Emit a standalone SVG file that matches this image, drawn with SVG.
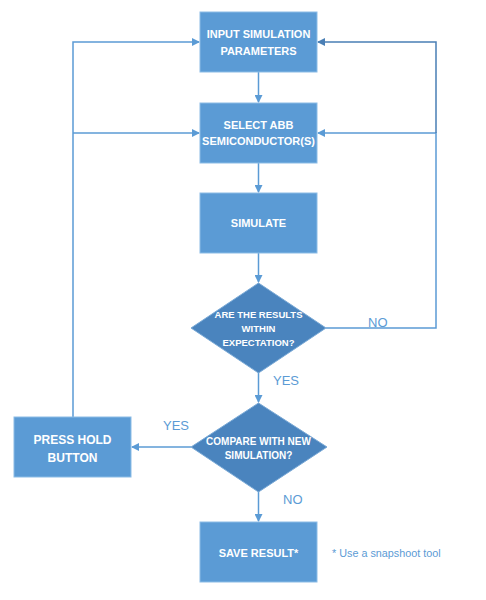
<svg xmlns="http://www.w3.org/2000/svg" width="486" height="600" viewBox="0 0 486 600">
<defs>
<style>
.box{fill:#5b9bd5;stroke:#8bbce6;stroke-width:1}
.dia{fill:#4a84be;stroke:#7aa9d6;stroke-width:1}
.t{font-family:"Liberation Sans",Arial,sans-serif;font-weight:bold;fill:#ffffff;text-anchor:middle}
.lbl{font-family:"Liberation Sans",Arial,sans-serif;fill:#5b9bd5;font-size:13px}
.ln{fill:none;stroke:#5b9bd5;stroke-width:1.5}
.ln2{fill:none;stroke:#4a7fb5;stroke-width:1.5}
</style>
<marker id="ah" markerWidth="8" markerHeight="8" refX="7" refY="4" orient="auto" markerUnits="userSpaceOnUse">
<path d="M0,0 L8,4 L0,8 Z" fill="#5b9bd5"/>
</marker>
<marker id="ah2" markerWidth="8" markerHeight="8" refX="7" refY="4" orient="auto" markerUnits="userSpaceOnUse">
<path d="M0,0 L8,4 L0,8 Z" fill="#4a7fb5"/>
</marker>
</defs>
<rect width="486" height="600" fill="#ffffff"/>
<g id="connectors">
<line class="ln" x1="258.5" y1="72" x2="258.5" y2="102" marker-end="url(#ah)"/>
<line class="ln" x1="258.5" y1="163" x2="258.5" y2="192" marker-end="url(#ah)"/>
<line class="ln" x1="258.5" y1="253" x2="258.5" y2="282" marker-end="url(#ah)"/>
<line class="ln" x1="258.5" y1="373" x2="258.5" y2="402" marker-end="url(#ah)"/>
<line class="ln" x1="258.5" y1="492" x2="258.5" y2="521" marker-end="url(#ah)"/>
<line class="ln" x1="191" y1="447" x2="132" y2="447" marker-end="url(#ah)"/>
<polyline class="ln" points="73,417 73,42 199,42" marker-end="url(#ah)"/>
<line class="ln" x1="73" y1="133" x2="199" y2="133" marker-end="url(#ah)"/>
<polyline class="ln" points="326,328 436,328 436,133 318,133" marker-end="url(#ah)"/>
<polyline class="ln2" points="436,133 436,42 318,42" marker-end="url(#ah2)"/>
<text class="lbl" x="368" y="327">NO</text>
<text class="lbl" x="273" y="385">YES</text>
<text class="lbl" x="163" y="430">YES</text>
<text class="lbl" x="283" y="504">NO</text>
</g>
<g id="n1">
<rect class="box" x="200" y="12" width="117" height="60"/>
<text class="t" font-size="11" x="258.5" y="38">INPUT SIMULATION</text>
<text class="t" font-size="11" x="258.5" y="55">PARAMETERS</text>
</g>
<g id="n2">
<rect class="box" x="200" y="103" width="117" height="60"/>
<text class="t" font-size="11" x="258.5" y="129">SELECT ABB</text>
<text class="t" font-size="11" x="258.5" y="145">SEMICONDUCTOR(S)</text>
</g>
<g id="n3">
<rect class="box" x="200" y="193" width="117" height="60"/>
<text class="t" font-size="11" x="258.5" y="227">SIMULATE</text>
</g>
<g id="n4">
<polygon class="dia" points="258.5,283 326,328 258.5,373 191,328"/>
<text class="t" font-size="9.5" x="258.5" y="318">ARE THE RESULTS</text>
<text class="t" font-size="9.5" x="258.5" y="332">WITHIN</text>
<text class="t" font-size="9.5" x="258.5" y="346">EXPECTATION?</text>
</g>
<g id="n5">
<polygon class="dia" points="258.5,403 327,447 258.5,492 191,447"/>
<text class="t" font-size="10" x="258.5" y="444.5">COMPARE WITH NEW</text>
<text class="t" font-size="10" x="258.5" y="458.5">SIMULATION?</text>
</g>
<g id="n6">
<rect class="box" x="14" y="417" width="117" height="60"/>
<text class="t" font-size="12" x="72.5" y="443.5">PRESS HOLD</text>
<text class="t" font-size="12" x="72.5" y="461.5">BUTTON</text>
</g>
<g id="n7">
<rect class="box" x="200" y="522" width="117" height="60"/>
<text class="t" font-size="11" x="258.5" y="557">SAVE RESULT*</text>
</g>
<g id="note">
<text font-family="Liberation Sans,Arial,sans-serif" font-size="10.8" fill="#5b9bd5" x="332" y="557">* Use a snapshoot tool</text>
</g>
</svg>
